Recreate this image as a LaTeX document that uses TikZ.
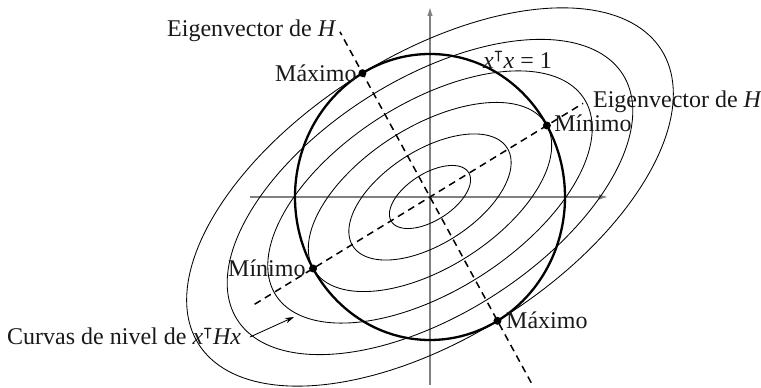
\documentclass[tikz,border=0pt]{standalone}
\usepackage{fontspec}
\usepackage{amssymb}
\setmainfont{Liberation Serif}
\usetikzlibrary{arrows.meta}
\newcommand{\tp}{$^{\intercal}$}
\begin{document}
\begin{tikzpicture}[x=135pt,y=143pt,
  axis/.style={draw=black!50, line width=1.3pt, -{Latex[length=9pt,width=5.5pt]}},
  ell/.style={draw=black, line width=0.85pt},
  circ/.style={draw=black, line width=2.3pt},
  eig/.style={draw=black, line width=1.5pt, dash pattern=on 7pt off 5pt},
  dot/.style={circle, fill=black, inner sep=0pt, minimum size=8pt},
  lbl/.style={font=\fontsize{24}{28}\selectfont, inner sep=0pt, anchor=base west, text=black!90},
  pointer/.style={draw=black, line width=0.85pt, -{Stealth[length=9pt,width=5.5pt]}}]
\useasboundingbox (-3.1852,-1.3357) rectangle (2.4519,1.3776);
% axes
\coordinate (hs) at (-1.333,0);
\coordinate (he) at (1.319,0);
\coordinate (vs) at (0,-1.315);
\coordinate (ve) at (0,1.329);
\draw[axis] (hs) -- (he);
\draw[axis] (vs) -- (ve);
% level curves
\foreach \a in {0.3333,0.6667,1,1.3333,1.6667,2}
  \draw[ell] plot[domain=0:360,samples=181] ({\a*(0.8660*cos(\x)-0.25*sin(\x))},{\a*(0.5*cos(\x)+0.4330*sin(\x))}) -- cycle;
% eigenvector lines
\coordinate (ma) at (-1.299,-0.75);
\coordinate (mb) at (1.134,0.655);
\coordinate (na) at (0.75,-1.299);
\coordinate (nb) at (-0.667,1.155);
\draw[eig] (ma) -- (mb);
\draw[eig] (na) -- (nb);
% unit circle
\coordinate (O) at (0,0);
\draw[circ] (O) ellipse [x radius=135pt, y radius=143pt];
% points
\node[dot] (minR) at (0.8660,0.5) {};
\node[dot] (minL) at (-0.8660,-0.5) {};
\node[dot] (maxT) at (-0.5,0.8660) {};
\node[dot] (maxB) at (0.5,-0.8660) {};
% labels
\node[lbl] (eigTL) at (-1.948,1.119) {Eigenvector de \textit{H}};
\node[lbl] (lmaxT) at (-1.148,0.811) {Máximo};
\node[lbl] (xtx) at (0.393,0.902) {\textit{x}\tp\textit{x} = 1};
\node[lbl] (eigR) at (1.207,0.629) {Eigenvector de \textit{H}};
\node[lbl] (lminR) at (0.919,0.455) {Mínimo};
\node[lbl] (lminL) at (-1.496,-0.559) {Mínimo};
\node[lbl] (lmaxB) at (0.563,-0.923) {Máximo};
\node[lbl] (curv) at (-3.133,-1.035) {Curvas de nivel de \textit{x}\tp\textit{Hx}};
\coordinate (ps) at (-1.333,-0.979);
\coordinate (pe) at (-1.007,-0.839);
\draw[pointer] (ps) -- (pe);
\end{tikzpicture}
\end{document}
